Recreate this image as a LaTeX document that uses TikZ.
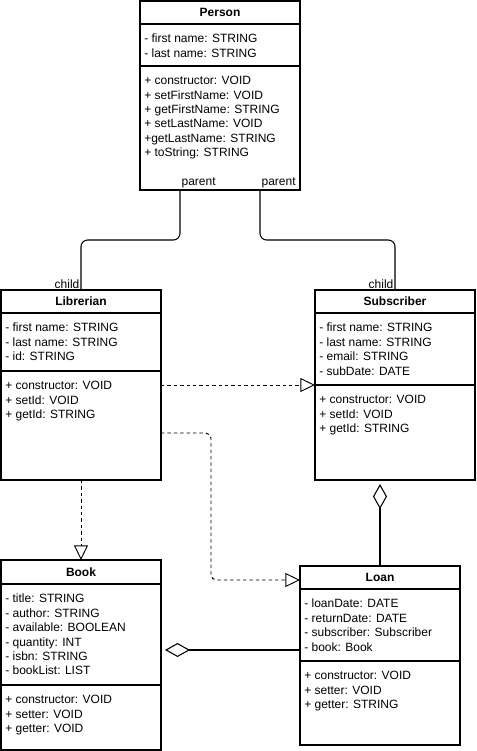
\documentclass[tikz,border=0pt]{standalone}
\usepackage{fontspec}
\setmainfont{Liberation Sans}
\usepackage{tikz}
\usetikzlibrary{positioning, arrows.meta}

\tikzset{
  umlhead/.style={draw, line width=0.8pt, minimum width=120pt, anchor=north west, inner sep=0pt, outer sep=0pt, font=\fontsize{9}{10.8}\selectfont\bfseries},
  umlpart/.style={draw, line width=0.8pt, minimum width=120pt, anchor=north west, inner sep=0pt, outer sep=0pt},
  umltext/.style={anchor=north west, align=left, inner sep=0pt, font=\fontsize{9}{10.8}\selectfont},
  rolelabel/.style={inner sep=1pt, font=\fontsize{9}{10.8}\selectfont},
  inherit/.style={line width=0.8pt},
  realize/.style={line width=0.7pt, dash pattern=on 2.6pt off 2.2pt, -{Triangle[open, length=11pt, width=10.5pt]}},
  aggr/.style={line width=0.8pt, shorten >=3pt, -{Diamond[open, length=18.75pt, width=10.5pt]}}
}

\begin{document}
\begin{tikzpicture}[x=0.75pt,y=0.75pt,yscale=-1,xscale=1]
\useasboundingbox (0,0) rectangle (476,751);

%Shape: Class [Person]
\node[umlhead, minimum height=17.25pt] (person) at (140,1) {Person};
\node[umlpart, minimum height=31.5pt] (person-a) at (person.south west) {};
\node[umlpart, minimum height=93pt] (person-m) at (person-a.south west) {};
\node[umltext] (person-at) at ([shift={(4,10)}]person-a.north west) {- first name: STRING\\- last name: STRING};
\node[umltext] (person-mt) at ([shift={(4,10)}]person-m.north west) {+ constructor: VOID\\+ setFirstName: VOID\\+ getFirstName: STRING\\+ setLastName: VOID\\+getLastName: STRING\\+ toString: STRING};

%Shape: Class [Librerian]
\node[umlhead, minimum height=17.25pt] (librerian) at (1,290) {Librerian};
\node[umlpart, minimum height=43.5pt] (librerian-a) at (librerian.south west) {};
\node[umlpart, minimum height=81.75pt] (librerian-m) at (librerian-a.south west) {};
\node[umltext] (librerian-at) at ([shift={(4,10)}]librerian-a.north west) {- first name: STRING\\- last name: STRING\\- id: STRING};
\node[umltext] (librerian-mt) at ([shift={(4,10)}]librerian-m.north west) {+ constructor: VOID\\+ setId: VOID\\+ getId: STRING};

%Shape: Class [Subscriber]
\node[umlhead, minimum height=17.25pt] (subscriber) at (315,290) {Subscriber};
\node[umlpart, minimum height=54pt] (subscriber-a) at (subscriber.south west) {};
\node[umlpart, minimum height=71.25pt] (subscriber-m) at (subscriber-a.south west) {};
\node[umltext] (subscriber-at) at ([shift={(4,10)}]subscriber-a.north west) {- first name: STRING\\- last name: STRING\\- email: STRING\\- subDate: DATE};
\node[umltext] (subscriber-mt) at ([shift={(4,10)}]subscriber-m.north west) {+ constructor: VOID\\+ setId: VOID\\+ getId: STRING};

%Shape: Class [Book]
\node[umlhead, minimum height=18pt] (book) at (1,560) {Book};
\node[umlpart, minimum height=75.75pt] (book-a) at (book.south west) {};
\node[umlpart, minimum height=48.75pt] (book-m) at (book-a.south west) {};
\node[umltext] (book-at) at ([shift={(4,10)}]book-a.north west) {- title: STRING\\- author: STRING\\- available: BOOLEAN\\- quantity: INT\\- isbn: STRING\\- bookList: LIST};
\node[umltext] (book-mt) at ([shift={(4,10)}]book-m.north west) {+ constructor: VOID\\+ setter: VOID\\+ getter: VOID};

%Shape: Class [Loan]
\node[umlhead, minimum height=17.25pt] (loan) at (300,566) {Loan};
\node[umlpart, minimum height=54pt] (loan-a) at (loan.south west) {};
\node[umlpart, minimum height=63pt] (loan-m) at (loan-a.south west) {};
\node[umltext] (loan-at) at ([shift={(4,10)}]loan-a.north west) {- loanDate: DATE\\- returnDate: DATE\\- subscriber: Subscriber\\- book: Book};
\node[umltext] (loan-mt) at ([shift={(4,10)}]loan-m.north west) {+ constructor: VOID\\+ setter: VOID\\+ getter: STRING};

%Straight Lines [Person - Librerian]
\coordinate (pl) at ([xshift=-30pt]person-m.south);
\draw[inherit, rounded corners=5pt] (pl) -- ++(0,50) -| (librerian.north);
\node[rolelabel, anchor=south west] (pl-parent) at (pl) {parent};
\node[rolelabel, anchor=south east] (pl-child) at (librerian.north) {child};
%Straight Lines [Person - Subscriber]
\coordinate (ps) at ([xshift=30pt]person-m.south);
\draw[inherit, rounded corners=5pt] (ps) -- ++(0,50) -| (subscriber.north);
\node[rolelabel, anchor=south west] (ps-parent) at (ps) {parent};
\node[rolelabel, anchor=south east] (ps-child) at (subscriber.north) {child};

%Straight Lines [Librerian - Subscriber]
\draw[realize] (subscriber-m.north west -| librerian-m.east) -- (subscriber-m.north west);
%Straight Lines [Librerian - Loan]
\coordinate (ll) at ([yshift=46.5pt]librerian-m.north east);
\draw[realize, rounded corners=4pt] (ll) -- ++(50,0) |- ([yshift=10.5pt]loan.north west);
%Straight Lines [Librerian - Book]
\draw[realize] (librerian-m.south) -- (book.north);

%Straight Lines [Loan - Subscriber]
\draw[aggr] (loan.north) -- (loan.north |- subscriber-m.south);
%Straight Lines [Loan - Book]
\coordinate (lb) at ([yshift=45.75pt]loan-a.north west);
\draw[aggr] (lb) -- (lb -| book-a.east);

\end{tikzpicture}
\end{document}
